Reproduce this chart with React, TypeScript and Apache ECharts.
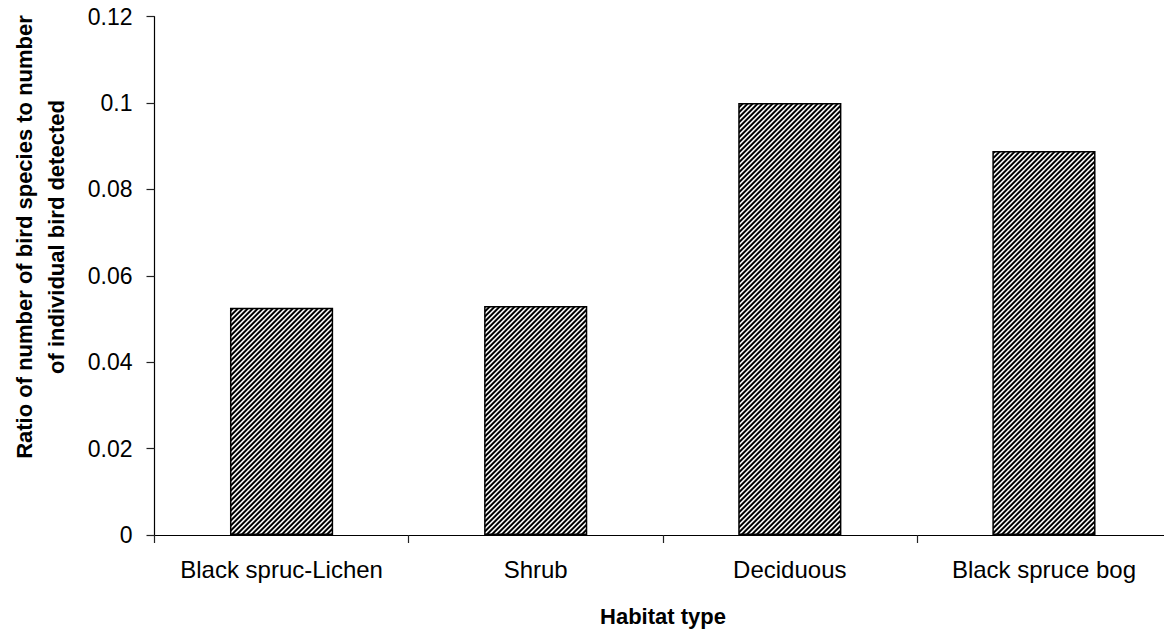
import React, { useEffect, useRef } from "react";
import * as echarts from "echarts";

const categories = ["Black spruc-Lichen", "Shrub", "Deciduous", "Black spruce bog"];
const ratioValues = [0.0526, 0.053, 0.1, 0.0889];
const yTickLabels = ["0", "0.02", "0.04", "0.06", "0.08", "0.1", "0.12"];
const yAxisTitle = "Ratio of number of bird species to number\nof individual bird detected";
const xAxisTitle = "Habitat type";

const FONT = "'Liberation Sans', Arial, sans-serif";

function makeStripeTile(): HTMLCanvasElement {
  const size = 5;
  const c = document.createElement("canvas");
  c.width = size;
  c.height = size;
  const ctx = c.getContext("2d")!;
  const img = ctx.createImageData(size, size);
  const ss = 6;
  for (let y = 0; y < size; y++) {
    for (let x = 0; x < size; x++) {
      let dark = 0;
      for (let sy = 0; sy < ss; sy++) {
        for (let sx = 0; sx < ss; sx++) {
          const px = x + (sx + 0.5) / ss;
          const py = y + (sy + 0.5) / ss;
          const v = ((px + py) % size + size) % size;
          if (v < size * 0.55) dark++;
        }
      }
      const frac = dark / (ss * ss);
      const g = Math.round(255 * (1 - frac));
      const i = (y * size + x) * 4;
      img.data[i] = g;
      img.data[i + 1] = g;
      img.data[i + 2] = g;
      img.data[i + 3] = 255;
    }
  }
  ctx.putImageData(img, 0, 0);
  return c;
}

export default function App() {
  const ref = useRef<HTMLDivElement>(null);

  useEffect(() => {
    if (!ref.current) return;
    const chart = echarts.init(ref.current, undefined, { renderer: "svg" });
    const tile = makeStripeTile();

    chart.setOption({
      animation: false,
      backgroundColor: "#ffffff",
      grid: { left: 154.5, right: 29, top: 16.7, bottom: 96, containLabel: false },
      xAxis: {
        type: "category",
        data: categories,
        axisLine: { show: true, lineStyle: { color: "#000", width: 1.2 } },
        axisTick: { show: true, length: 8, lineStyle: { color: "#222", width: 1.2 } },
        axisLabel: {
          color: "#000",
          fontFamily: FONT,
          fontSize: 24,
          margin: 22,
          interval: 0,
        },
        splitLine: { show: false },
      },
      yAxis: {
        type: "value",
        min: 0,
        max: 0.12,
        interval: 0.02,
        axisLine: { show: true, lineStyle: { color: "#000", width: 1.2 } },
        axisTick: { show: true, length: 8, lineStyle: { color: "#222", width: 1.2 } },
        axisLabel: {
          color: "#000",
          fontFamily: FONT,
          fontSize: 23,
          margin: 22,
          formatter: (v: number) => {
            const idx = Math.round(v / 0.02);
            return yTickLabels[idx] ?? String(v);
          },
        },
        splitLine: { show: false },
      },
      series: [
        {
          type: "bar",
          data: ratioValues,
          barWidth: "40.6%",
          itemStyle: {
            color: { image: tile, repeat: "repeat", imageWidth: 5, imageHeight: 5 } as any,
            borderColor: "#000",
            borderWidth: 1.5,
          },
          emphasis: { disabled: true },
        },
      ],
      graphic: [
        {
          type: "text",
          x: 40.5,
          y: 237,
          rotation: Math.PI / 2,
          style: {
            text: yAxisTitle,
            fontFamily: FONT,
            fontSize: 22,
            fontWeight: "bold",
            fill: "#000",
            align: "center",
            verticalAlign: "middle",
            lineHeight: 32,
          },
        },
        {
          type: "text",
          x: 663,
          y: 616,
          style: {
            text: xAxisTitle,
            fontFamily: FONT,
            fontSize: 22,
            fontWeight: "bold",
            fill: "#000",
            align: "center",
            verticalAlign: "middle",
          },
        },
      ],
    });

    return () => chart.dispose();
  }, []);

  return (
    <div
      style={{
        position: "fixed",
        left: 0,
        top: 0,
        width: 1164,
        height: 631,
        overflow: "hidden",
        background: "#fff",
      }}
    >
      <div ref={ref} style={{ width: 1200, height: 631 }} />
    </div>
  );
}
